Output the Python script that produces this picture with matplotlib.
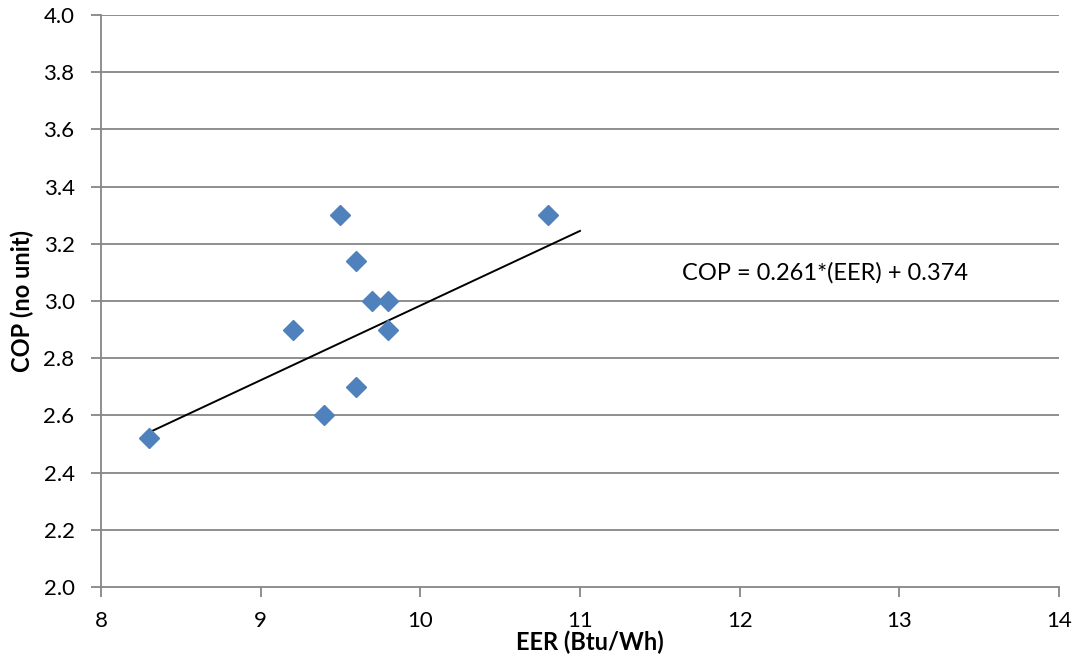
import matplotlib.pyplot as plt
import numpy as np

plt.rcParams['font.family'] = ['Lato', 'DejaVu Sans']

eer = [8.3, 9.2, 9.4, 9.5, 9.6, 9.6, 9.7, 9.8, 9.8, 10.8]
cop = [2.52, 2.9, 2.6, 3.3, 3.14, 2.7, 3.0, 3.0, 2.9, 3.3]
slope, intercept = 0.261, 0.374
fit_x = [8.3, 11.0]
equation = 'COP = 0.261*(EER) + 0.374'

fig = plt.figure(figsize=(10.81, 6.63), dpi=100)
ax = fig.add_axes([0.0934, 0.1146, 0.8862, 0.8628])

grid_c = '#868686'
for y in np.arange(2.2, 4.01, 0.2):
    ax.axhline(y, color=grid_c, linewidth=1.3, zorder=0)

fx = np.array(fit_x)
ax.plot(fx, slope * fx + intercept, color='black', linewidth=1.4, zorder=2)
ax.plot(eer, cop, linestyle='none', marker='D', markersize=10.5,
        color='#4F81BD', markeredgecolor='#4F81BD', zorder=3)

ax.text(11.64, 3.10, equation, ha='left', va='center', fontsize=17)

ax.set_xlim(8, 14)
ax.set_ylim(2.0, 4.0)
ax.set_xticks(range(8, 15))
ax.set_yticks(np.arange(2.0, 4.01, 0.2))
ax.set_yticklabels([f'{v:.1f}' for v in np.arange(2.0, 4.01, 0.2)])
for s in ['top', 'right']:
    ax.spines[s].set_visible(False)
for s in ['left', 'bottom']:
    ax.spines[s].set_color(grid_c)
    ax.spines[s].set_linewidth(1.3)
ax.tick_params(axis='both', colors=grid_c, length=7, width=1.3, labelsize=16,
               labelcolor='black')
ax.tick_params(axis='x', pad=10)
ax.tick_params(axis='y', pad=12)
ax.set_xlabel('EER (Btu/Wh)', fontsize=17, fontweight='bold')
ax.set_ylabel('COP (no unit)', fontsize=17, fontweight='bold')
ax.xaxis.set_label_coords(0.51, -0.076)
ax.yaxis.set_label_coords(-0.07, 0.5)

fig.savefig('out.png', dpi=100)
